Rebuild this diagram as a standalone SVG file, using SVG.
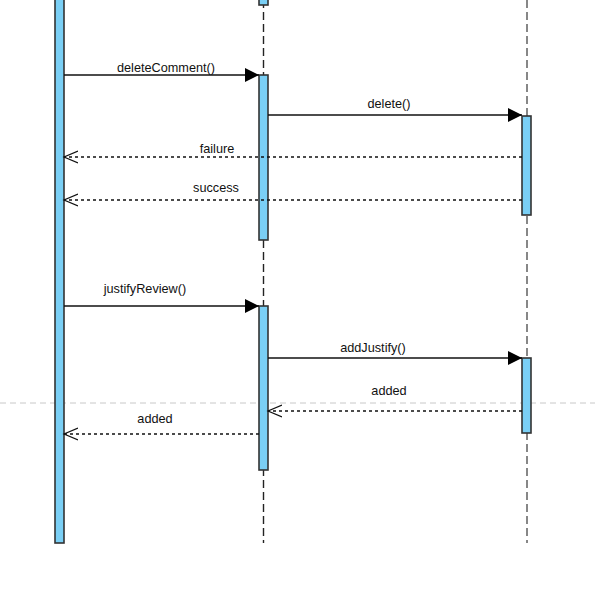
<svg xmlns="http://www.w3.org/2000/svg" width="595" height="593" viewBox="0 0 595 593">
<style>
.act{fill:#7acff5;stroke:#333;stroke-width:1.6}
.life{stroke:#222;stroke-width:1.4;stroke-dasharray:8,4;fill:none}
.life2{stroke:#555;stroke-width:1.4;stroke-dasharray:8,4;fill:none}
.msg{stroke:#111;stroke-width:1.4;fill:none}
.ret{stroke:#111;stroke-width:1.3;stroke-dasharray:3,3;fill:none}
text{font-family:"Liberation Sans",Arial,sans-serif;font-size:12.7px;fill:#111;text-anchor:middle}
</style>
<defs>
<marker id="fill" markerWidth="16" markerHeight="16" refX="14" refY="7" orient="auto" markerUnits="userSpaceOnUse" viewBox="0 0 16 14">
<path d="M0,0 L14,7 L0,14 Z" fill="#000"/>
</marker>
<marker id="open" markerWidth="16" markerHeight="16" refX="14" refY="7" orient="auto" markerUnits="userSpaceOnUse" viewBox="0 0 16 14">
<path d="M0,1 L14,7 L0,13" fill="none" stroke="#111" stroke-width="1.2"/>
</marker>
</defs>
<rect width="595" height="593" fill="#fff"/>
<line x1="0" y1="403" x2="595" y2="403" stroke="#c8c8c8" stroke-width="1" stroke-dasharray="6,4"/>
<g id="lifeline-b">
<line class="life" x1="263.5" y1="0" x2="263.5" y2="543"/>
<rect class="act" x="259" y="-5" width="9" height="10"/>
<rect class="act" x="259" y="75" width="9" height="165"/>
<rect class="act" x="259" y="306" width="9" height="164"/>
</g>
<g id="lifeline-c">
<line class="life2" x1="527" y1="0" x2="527" y2="543"/>
<rect class="act" x="522" y="116" width="9" height="99"/>
<rect class="act" x="522" y="358" width="9" height="75"/>
</g>
<g id="lifeline-a">
<rect class="act" x="55" y="-5" width="9" height="548"/>
</g>
<g id="connectors">
<line class="msg" x1="64" y1="75" x2="259" y2="75" marker-end="url(#fill)"/>
<line class="msg" x1="268" y1="115" x2="522" y2="115" marker-end="url(#fill)"/>
<line class="ret" x1="522" y1="157" x2="64" y2="157" marker-end="url(#open)"/>
<line class="ret" x1="522" y1="200" x2="64" y2="200" marker-end="url(#open)"/>
<line class="msg" x1="64" y1="306" x2="259" y2="306" marker-end="url(#fill)"/>
<line class="msg" x1="268" y1="358" x2="522" y2="358" marker-end="url(#fill)"/>
<line class="ret" x1="522" y1="411" x2="268" y2="411" marker-end="url(#open)"/>
<line class="ret" x1="259" y1="434" x2="64" y2="434" marker-end="url(#open)"/>
<text x="166" y="72">deleteComment()</text>
<text x="389" y="108">delete()</text>
<text x="217" y="153">failure</text>
<text x="216" y="192">success</text>
<text x="145" y="293">justifyReview()</text>
<text x="373" y="352">addJustify()</text>
<text x="389" y="395">added</text>
<text x="155" y="423">added</text>
</g>
</svg>
